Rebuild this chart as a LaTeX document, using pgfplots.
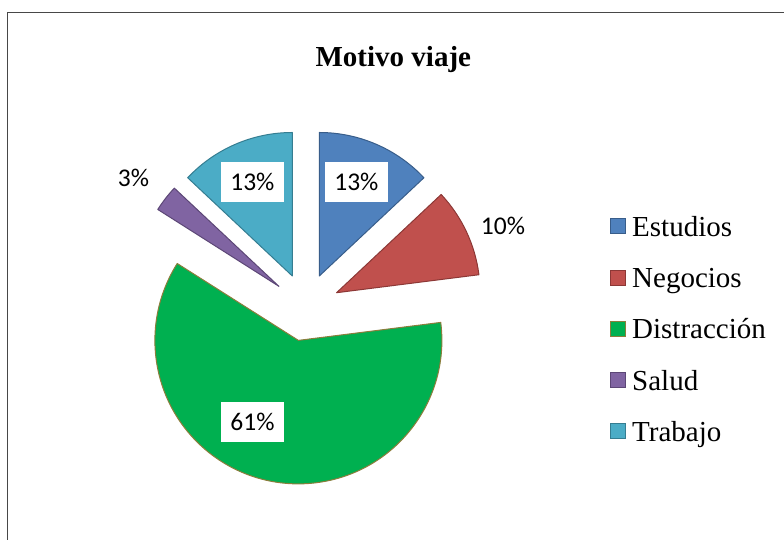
\documentclass[border=0pt]{standalone}
\usepackage{fontspec}
\setmainfont{Liberation Serif}
\newfontfamily\calibri{Carlito}
\usepackage{pgfplots}
\usepackage{pgfplotstable}
\pgfplotsset{compat=1.18}
\usetikzlibrary{calc}

\definecolor{c0}{HTML}{4F81BD}\definecolor{d0}{HTML}{385D8A}
\definecolor{c1}{HTML}{C0504D}\definecolor{d1}{HTML}{8C3836}
\definecolor{c2}{HTML}{00B050}\definecolor{d2}{HTML}{8C7D3C}
\definecolor{c3}{HTML}{8064A2}\definecolor{d3}{HTML}{5C4776}
\definecolor{c4}{HTML}{4BACC6}\definecolor{d4}{HTML}{357D91}

% Motivo viaje, in percent
\pgfplotstableread{
label value
Estudios 13
Negocios 10
Distracción 61
Salud 3
Trabajo 13
}\motivo

\begin{document}
\begin{tikzpicture}
% slice angles: start at 12 o'clock, clockwise
\gdef\cum{0}
\foreach \i in {0,...,4}{%
  \pgfplotstablegetelem{\i}{value}\of\motivo \let\tmpv\pgfplotsretval
  \pgfplotstablegetelem{\i}{label}\of\motivo \let\tmpn\pgfplotsretval
  \pgfmathsetmacro\tmps{90-3.6*\cum}
  \pgfmathsetmacro\tmpe{90-3.6*(\cum+\tmpv)}
  \pgfmathsetmacro\tmpm{(\tmps+\tmpe)/2}
  \expandafter\xdef\csname sa\i\endcsname{\tmps}
  \expandafter\xdef\csname ea\i\endcsname{\tmpe}
  \expandafter\xdef\csname ma\i\endcsname{\tmpm}
  \expandafter\xdef\csname lab\i\endcsname{\tmpv\noexpand\%}
  \expandafter\global\expandafter\let\csname name\i\endcsname\tmpn
  \pgfmathsetmacro\tmpc{\cum+\tmpv}\xdef\cum{\tmpc}
}
\begin{axis}[
    x=1pt, y=1pt,
    xmin=0, xmax=784, ymin=0, ymax=540,
    hide axis, clip=false,
]
  \coordinate (bl) at (axis cs:0,0);
  \coordinate (tr) at (axis cs:784,540);
  \draw[black!72, line width=1pt] (axis cs:7.5,-20) |- (axis cs:800,527);

  \node[anchor=base, font=\bfseries\fontsize{29}{34}\selectfont]
    at (axis cs:393.3,473) {Motivo viaje};

  \pgfplotsinvokeforeach{0,...,4}{
    \filldraw[fill=c#1, draw=d#1, line width=1pt, line join=round]
      ($(axis cs:305.8,232.8)+(\csname ma#1\endcsname:34pt)$)
      -- ++(\csname sa#1\endcsname:143.5pt)
      arc[start angle=\csname sa#1\endcsname, end angle=\csname ea#1\endcsname, radius=143.5pt]
      -- cycle;
    \filldraw[fill=c#1, draw=d#1, line width=1pt]
      ($(axis cs:610.7,321)+(0pt,-51.2pt*#1)$) rectangle ++(15pt,-15pt);
    \node[anchor=base west, inner sep=0pt, font=\fontsize{29}{34}\selectfont]
      at ($(axis cs:632,303.5)+(0pt,-51.2pt*#1)$) {\csname name#1\endcsname};
  }

  \tikzset{inlab/.style={fill=white, minimum width=63pt, minimum height=40pt,
      inner sep=0pt, font=\calibri\fontsize{25.5}{30}\selectfont},
    outlab/.style={inner sep=0pt, font=\calibri\fontsize{25.5}{30}\selectfont}}
  \node[inlab] at (axis cs:356.4,358) {\csname lab0\endcsname};
  \node[outlab] at (axis cs:503,314.3) {\csname lab1\endcsname};
  \node[inlab] at (axis cs:252.5,117.6) {\csname lab2\endcsname};
  \node[outlab] at (axis cs:133.5,362) {\csname lab3\endcsname};
  \node[inlab] at (axis cs:252.4,357.8) {\csname lab4\endcsname};
\end{axis}
\pgfresetboundingbox
\path[use as bounding box] (bl) rectangle (tr);
\end{tikzpicture}
\end{document}
